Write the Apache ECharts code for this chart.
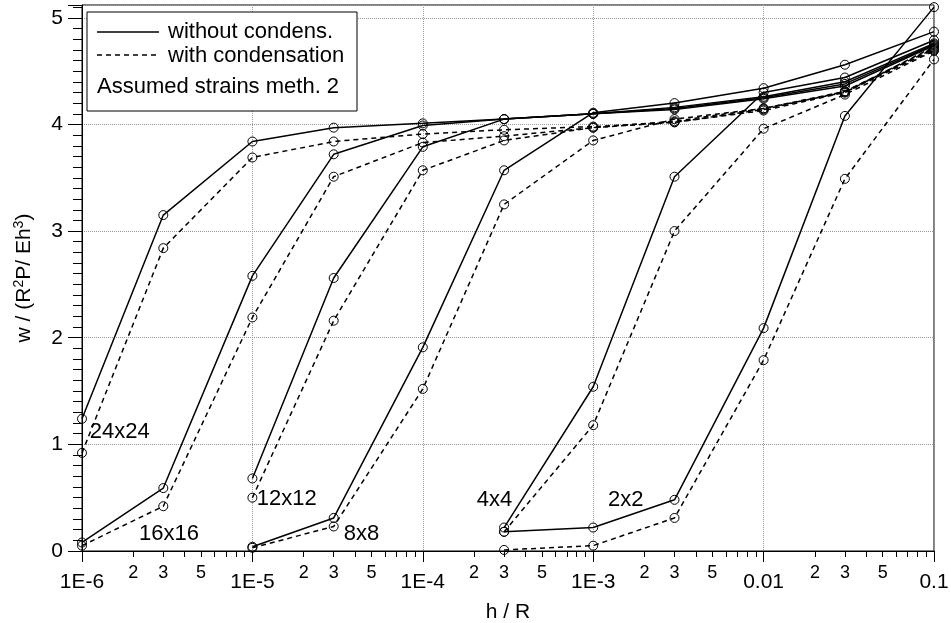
<!DOCTYPE html>
<html>
<head>
<meta charset="utf-8">
<script src="https://cdn.jsdelivr.net/npm/echarts@6/dist/echarts.min.js"></script>
<style>
html, body { margin: 0; padding: 0; background: #fff; }
#main { width: 951px; height: 623px; }
</style>
</head>
<body>
<div id="main"></div>
<script>
// h/R values shared by all meshes
var hValues = [1e-6, 3e-6, 1e-5, 3e-5, 1e-4, 3e-4, 1e-3, 3e-3, 0.01, 0.03, 0.1];

// mesh names and index of their first h value
var meshNames = ['24x24', '16x16', '12x12', '8x8', '4x4', '2x2'];
var meshStart = [0, 0, 2, 2, 5, 5];

// w / (R^2 P / E h^3), without condensation (solid)
var w24Without = [1.24, 3.15, 3.84, 3.97, 4.01, 4.05, 4.10, 4.14, 4.24, 4.36, 4.74];
var w16Without = [0.08, 0.59, 2.58, 3.72, 3.99, 4.05, 4.10, 4.15, 4.25, 4.38, 4.75];
var w12Without = [0.68, 2.56, 3.79, 4.05, 4.10, 4.16, 4.26, 4.40, 4.76];
var w8Without  = [0.04, 0.31, 1.91, 3.57, 4.11, 4.20, 4.34, 4.56, 4.87];
var w4Without  = [0.22, 1.54, 3.51, 4.30, 4.44, 4.79];
var w2Without  = [0.18, 0.22, 0.48, 2.09, 4.08, 5.10];

// with condensation (dashed)
var w24With = [0.92, 2.84, 3.69, 3.84, 3.91, 3.95, 3.98, 4.02, 4.13, 4.30, 4.70];
var w16With = [0.05, 0.42, 2.19, 3.51, 3.83, 3.89, 3.97, 4.02, 4.14, 4.31, 4.71];
var w12With = [0.50, 2.16, 3.57, 3.85, 3.97, 4.03, 4.15, 4.31, 4.72];
var w8With  = [0.03, 0.23, 1.52, 3.25, 3.85, 4.05, 4.15, 4.30, 4.73];
var w4With  = [0.18, 1.18, 3.00, 3.96, 4.28, 4.69];
var w2With  = [0.01, 0.05, 0.31, 1.79, 3.49, 4.61];

var withoutSets = [w24Without, w16Without, w12Without, w8Without, w4Without, w2Without];
var withSets = [w24With, w16With, w12With, w8With, w4With, w2With];

// where the mesh names are written (h, w of the text's left middle)
var meshLabelAt = [[1.11e-6, 1.12], [2.16e-6, 0.16], [1.06e-5, 0.49], [3.44e-5, 0.16], [2.07e-4, 0.48], [1.22e-3, 0.48]];

// tick labels
var majorTicks = [1e-6, 1e-5, 1e-4, 1e-3, 0.01, 0.1];
var majorLabels = ['1E-6', '1E-5', '1E-4', '1E-3', '0.01', '0.1'];
var minorTickMult = [2, 3, 4, 5, 6, 7, 8, 9];
var minorLabelMult = [2, 3, 5];

var FONT = 'Liberation Sans, Arial, Helvetica, sans-serif';

function pairs(vals, start) {
    var out = [];
    for (var i = 0; i < vals.length; i++) out.push([hValues[start + i], vals[i]]);
    return out;
}

var minorTickPos = [], minorLabelPos = [];
for (var k = -6; k < -1; k++) {
    minorTickMult.forEach(function (m) { minorTickPos.push(k + Math.log10(m)); });
    minorLabelMult.forEach(function (m) { minorLabelPos.push(k + Math.log10(m)); });
}

var series = [];
for (var i = 0; i < meshNames.length; i++) {
    [[withoutSets[i], 'solid', 'without condens.'], [withSets[i], [5, 4], 'with condensation']].forEach(function (s) {
        series.push({
            name: s[2],
            type: 'line',
            xAxisIndex: 0,
            data: pairs(s[0], meshStart[i]),
            symbol: 'circle',
            symbolSize: 9,
            showAllSymbol: true,
            itemStyle: { color: 'rgba(0,0,0,0)', borderColor: '#000', borderWidth: 1 },
            lineStyle: { color: '#000', width: 1.5, type: s[1] },
            emphasis: { disabled: true },
            z: 3
        });
    });
}
series.push({
    type: 'scatter',
    xAxisIndex: 0,
    symbolSize: 0,
    itemStyle: { opacity: 1 },
    data: meshLabelAt.map(function (p, i) { return { value: p, name: meshNames[i] }; }),
    label: {
        show: true, position: 'right', distance: 0, opacity: 1,
        formatter: function (p) { return p.name; },
        color: '#000', fontFamily: FONT, fontSize: 22
    },
    emphasis: { disabled: true },
    z: 4
});

var chart = echarts.init(document.getElementById('main'));
chart.setOption({
    animation: false,
    backgroundColor: '#fff',
    grid: {
        left: 82, right: 17, top: 5, bottom: 72,
        outerBoundsMode: 'none', containLabel: false,
        show: true, borderColor: '#000', borderWidth: 1
    },
    xAxis: [
        {
            type: 'log',
            logBase: 10,
            min: 1e-6,
            max: 0.1,
            position: 'bottom',
            name: 'h / R',
            nameLocation: 'middle',
            nameGap: 51,
            nameTextStyle: { color: '#000', fontFamily: FONT, fontSize: 21 },
            axisLine: { show: true, onZero: false, lineStyle: { color: '#000', width: 1 } },
            axisTick: { show: true, length: 11, lineStyle: { color: '#000' } },
            minorTick: { show: false },
            axisLabel: {
                margin: 21, color: '#000', fontFamily: FONT, fontSize: 21,
                formatter: function (v) {
                    for (var j = 0; j < majorTicks.length; j++) {
                        if (Math.abs(Math.log10(majorTicks[j]) - Math.log10(v)) < 1e-6) return majorLabels[j];
                    }
                    return '';
                }
            },
            splitLine: { show: true, lineStyle: { color: '#999', type: 'dotted', width: 1 } }
        },
        {
            type: 'value',
            min: -6,
            max: -1,
            position: 'bottom',
            axisLine: { show: false, onZero: false },
            axisTick: { show: true, length: 6, customValues: minorTickPos, lineStyle: { color: '#000' } },
            axisLabel: {
                margin: 13, color: '#000', fontFamily: FONT, fontSize: 18,
                customValues: minorLabelPos,
                formatter: function (v) {
                    return String(Math.round(Math.pow(10, v - Math.floor(v + 1e-9))));
                }
            },
            splitLine: { show: false }
        }
    ],
    yAxis: {
        type: 'value',
        min: 0,
        max: 5.12,
        interval: 1,
        name: '{n|w / (R}{sup|2}{n|P/ Eh}{sup|3}{n|)}',
        nameLocation: 'middle',
        nameRotate: 90,
        nameGap: 46,
        nameTextStyle: {
            color: '#000', fontFamily: FONT, fontSize: 21,
            rich: {
                n: { fontSize: 21, fontFamily: FONT, color: '#000', lineHeight: 24 },
                sup: { fontSize: 14, fontFamily: FONT, color: '#000', lineHeight: 24, verticalAlign: 'top', padding: [0, 0, 10, 0] }
            }
        },
        axisLine: { show: true, lineStyle: { color: '#000', width: 1 } },
        axisTick: { show: true, length: 14, lineStyle: { color: '#000' } },
        minorTick: { show: true, splitNumber: 10, length: 9, lineStyle: { color: '#000' } },
        axisLabel: { margin: 19, showMaxLabel: false, color: '#000', fontFamily: FONT, fontSize: 21 },
        splitLine: { show: true, lineStyle: { color: '#999', type: 'dotted', width: 1 } }
    },
    graphic: [
        { type: 'rect', shape: { x: 87, y: 12, width: 270, height: 99 }, style: { fill: '#fff', stroke: '#000', lineWidth: 1 }, z: 10 },
        { type: 'line', shape: { x1: 97, y1: 32, x2: 159, y2: 32 }, style: { stroke: '#000', lineWidth: 1.5 }, z: 11 },
        { type: 'line', shape: { x1: 97, y1: 55, x2: 159, y2: 55 }, style: { stroke: '#000', lineWidth: 1.5, lineDash: [5, 4] }, z: 11 },
        { type: 'text', x: 168, y: 32, style: { text: 'without condens.', fill: '#000', font: '22px ' + FONT, verticalAlign: 'middle' }, z: 11 },
        { type: 'text', x: 168, y: 56, style: { text: 'with condensation', fill: '#000', font: '22px ' + FONT, verticalAlign: 'middle' }, z: 11 },
        { type: 'text', x: 97, y: 87, style: { text: 'Assumed strains meth. 2', fill: '#000', font: '22px ' + FONT, verticalAlign: 'middle' }, z: 11 }
    ],
    series: series
});
</script>
</body>
</html>
